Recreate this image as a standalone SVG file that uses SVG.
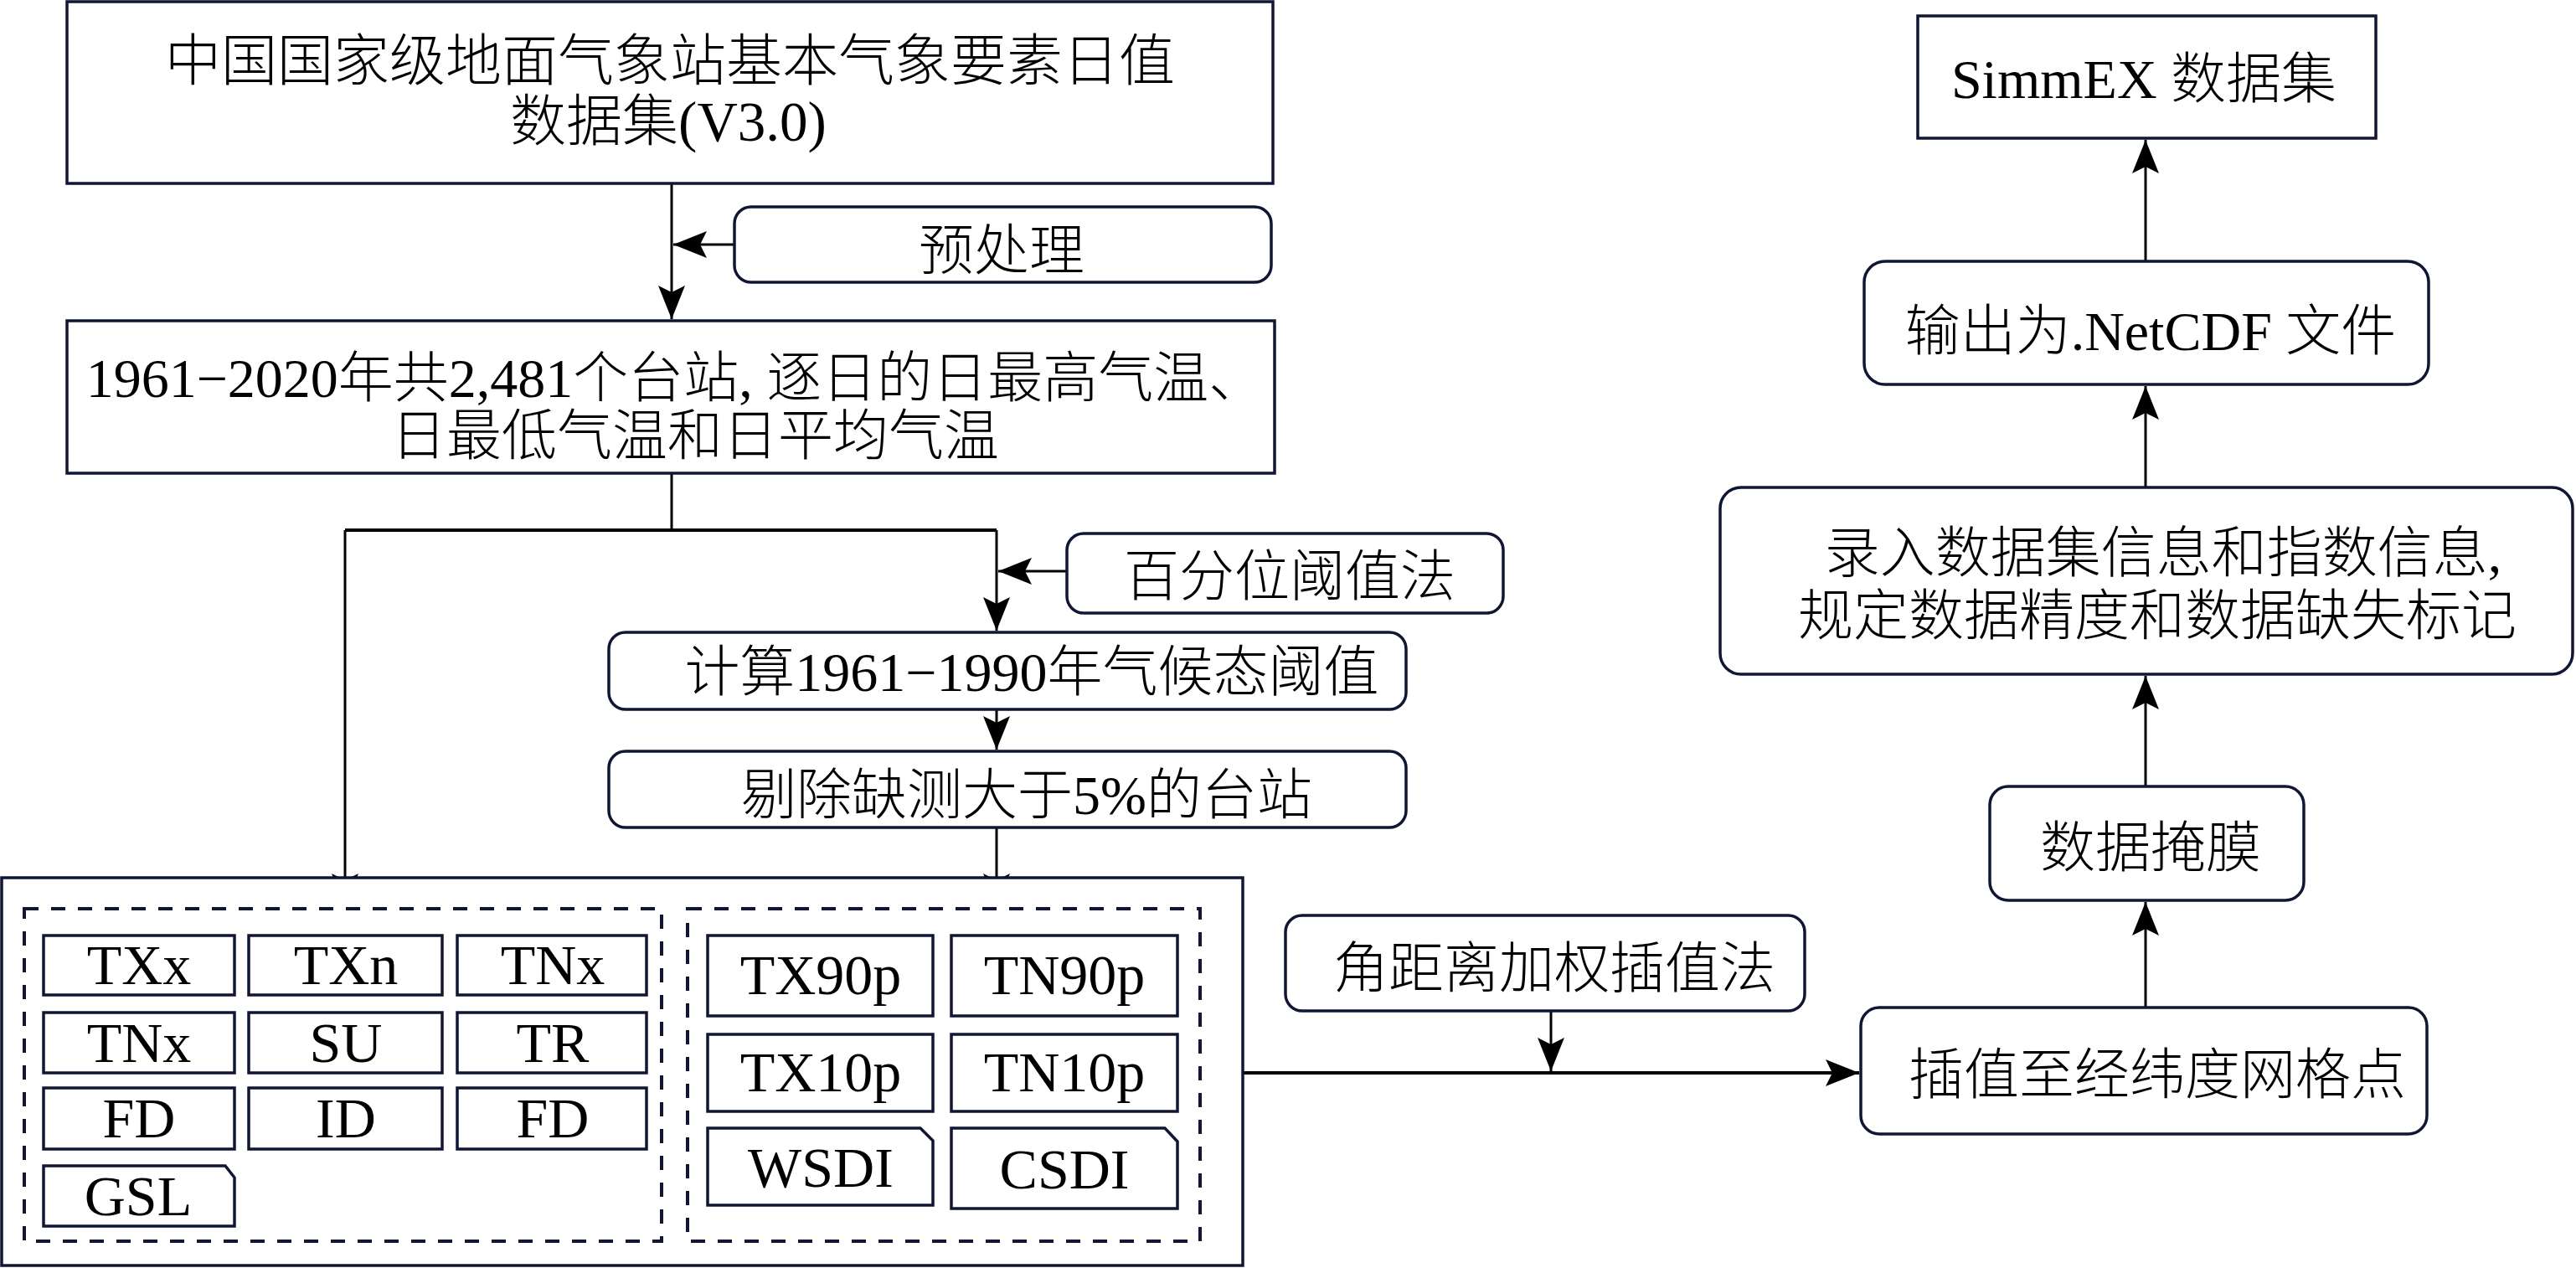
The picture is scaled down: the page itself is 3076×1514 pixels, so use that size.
<svg xmlns="http://www.w3.org/2000/svg" width="3076" height="1514" viewBox="0 0 3076 1514">
<style>
  .bx{fill:#fff;stroke:#101634;stroke-width:3.5}
  .dash{fill:none;stroke:#101634;stroke-width:4;stroke-dasharray:17 15}
  .t{font-family:"Liberation Serif","Noto Sans CJK SC",serif;font-size:66px;font-weight:300;fill:#000;text-anchor:middle}
  .l{font-size:68px}
  .c{fill:none;stroke:#000;stroke-width:3}
  .cm{fill:none;stroke:#000;stroke-width:4}
</style>
<defs>
  <marker id="ah" markerUnits="userSpaceOnUse" markerWidth="50" markerHeight="40" refX="0" refY="0" orient="auto" overflow="visible" viewBox="-45 -20 50 40">
    <path d="M0,0 L-40,-16 L-32,0 L-40,16 Z" fill="#000"/>
  </marker>
</defs>
<rect width="3076" height="1514" fill="#fff"/>

<g id="connectors">
  <path class="c" d="M802,219 V381" marker-end="url(#ah)"/>
  <path class="c" d="M877,292 H804" marker-end="url(#ah)"/>
  <path class="c" d="M802,565 V633"/>
  <path class="cm" d="M802,633 H412"/>
  <path class="cm" d="M802,633 H1190"/>
  <path class="c" d="M412,633 V1083" marker-end="url(#ah)"/>
  <path class="c" d="M1190,633 V753" marker-end="url(#ah)"/>
  <path class="c" d="M1274,682 H1192" marker-end="url(#ah)"/>
  <path class="c" d="M1190,847 V895" marker-end="url(#ah)"/>
  <path class="c" d="M1190,988 V1083" marker-end="url(#ah)"/>
  <path class="cm" d="M1484,1281 H2220" marker-end="url(#ah)"/>
  <path class="c" d="M1852,1207 V1279" marker-end="url(#ah)"/>
  <path class="c" d="M2562,1203 V1077" marker-end="url(#ah)"/>
  <path class="c" d="M2562,939 V807" marker-end="url(#ah)"/>
  <path class="c" d="M2562,582 V461" marker-end="url(#ah)"/>
  <path class="c" d="M2562,312 V167" marker-end="url(#ah)"/>
</g>

<g id="n-source">
  <rect class="bx" x="80" y="2" width="1440" height="217"/>
  <text class="t" x="800" y="96" style="font-size:67px">中国国家级地面气象站基本气象要素日值</text>
  <text class="t" x="798" y="168" style="font-size:67px">数据集(V3.0)</text>
</g>

<g id="n-preprocess">
  <rect class="bx" x="877" y="247" width="641" height="90" rx="20"/>
  <text class="t" x="1196" y="322">预处理</text>
</g>

<g id="n-stations">
  <rect class="bx" x="80" y="383" width="1442" height="182"/>
  <text class="t" x="806" y="474">1961−2020年共2,481个台站, 逐日的日最高气温、</text>
  <text class="t" x="830" y="543">日最低气温和日平均气温</text>
</g>

<g id="n-percentile">
  <rect class="bx" x="1274" y="637" width="521" height="95" rx="20"/>
  <text class="t" x="1540" y="711">百分位阈值法</text>
</g>

<g id="n-threshold">
  <rect class="bx" x="727" y="755" width="952" height="92" rx="20"/>
  <text class="t" x="1232" y="825">计算1961−1990年气候态阈值</text>
</g>

<g id="n-remove">
  <rect class="bx" x="727" y="897" width="952" height="91" rx="20"/>
  <text class="t" x="1226" y="972">剔除缺测大于5%的台站</text>
</g>

<g id="n-indices">
  <rect class="bx" x="2" y="1048" width="1482" height="463"/>
  <g id="g-absolute">
    <rect class="dash" x="29" y="1085" width="761" height="397"/>
    <rect class="bx" x="52" y="1117" width="228" height="71"/>
    <rect class="bx" x="297" y="1117" width="231" height="71"/>
    <rect class="bx" x="546" y="1117" width="226" height="71"/>
    <rect class="bx" x="52" y="1209" width="228" height="72"/>
    <rect class="bx" x="297" y="1209" width="231" height="72"/>
    <rect class="bx" x="546" y="1209" width="226" height="72"/>
    <rect class="bx" x="52" y="1299" width="228" height="73"/>
    <rect class="bx" x="297" y="1299" width="231" height="73"/>
    <rect class="bx" x="546" y="1299" width="226" height="73"/>
    <path class="bx" d="M52,1392 H269 L280,1406 V1464 H52 Z"/>
    <text class="t l" x="166" y="1175">TXx</text>
    <text class="t l" x="413" y="1175">TXn</text>
    <text class="t l" x="660" y="1175">TNx</text>
    <text class="t l" x="166" y="1268">TNx</text>
    <text class="t l" x="413" y="1268">SU</text>
    <text class="t l" x="660" y="1268">TR</text>
    <text class="t l" x="166" y="1358">FD</text>
    <text class="t l" x="413" y="1358">ID</text>
    <text class="t l" x="660" y="1358">FD</text>
    <text class="t l" x="165" y="1451">GSL</text>
  </g>
  <g id="g-percentile">
    <rect class="dash" x="821" y="1085" width="612" height="397"/>
    <rect class="bx" x="845" y="1117" width="269" height="96"/>
    <rect class="bx" x="1136" y="1117" width="270" height="96"/>
    <rect class="bx" x="845" y="1235" width="269" height="92"/>
    <rect class="bx" x="1136" y="1235" width="270" height="92"/>
    <path class="bx" d="M845,1347 H1099 L1114,1362 V1439 H845 Z"/>
    <path class="bx" d="M1136,1347 H1391 L1406,1363 V1443 H1136 Z"/>
    <text class="t l" x="980" y="1187">TX90p</text>
    <text class="t l" x="1271" y="1187">TN90p</text>
    <text class="t l" x="980" y="1303">TX10p</text>
    <text class="t l" x="1271" y="1303">TN10p</text>
    <text class="t l" x="980" y="1417">WSDI</text>
    <text class="t l" x="1271" y="1419">CSDI</text>
  </g>
</g>

<g id="n-idw">
  <rect class="bx" x="1535" y="1093" width="620" height="114" rx="20"/>
  <text class="t" x="1856" y="1179">角距离加权插值法</text>
</g>

<g id="n-grid">
  <rect class="bx" x="2222" y="1203" width="676" height="151" rx="22"/>
  <text class="t" x="2576" y="1306">插值至经纬度网格点</text>
</g>

<g id="n-mask">
  <rect class="bx" x="2376" y="939" width="375" height="136" rx="22"/>
  <text class="t" x="2568" y="1035">数据掩膜</text>
</g>

<g id="n-meta">
  <rect class="bx" x="2054" y="582" width="1018" height="223" rx="25"/>
  <text class="t" x="2583" y="683">录入数据集信息和指数信息,</text>
  <text class="t" x="2576" y="758">规定数据精度和数据缺失标记</text>
</g>

<g id="n-netcdf">
  <rect class="bx" x="2226" y="312" width="674" height="147" rx="25"/>
  <text class="t" x="2568" y="418">输出为.NetCDF 文件</text>
</g>

<g id="n-simmex">
  <rect class="bx" x="2290" y="19" width="547" height="146"/>
  <text class="t" x="2560" y="117">SimmEX 数据集</text>
</g>
</svg>
